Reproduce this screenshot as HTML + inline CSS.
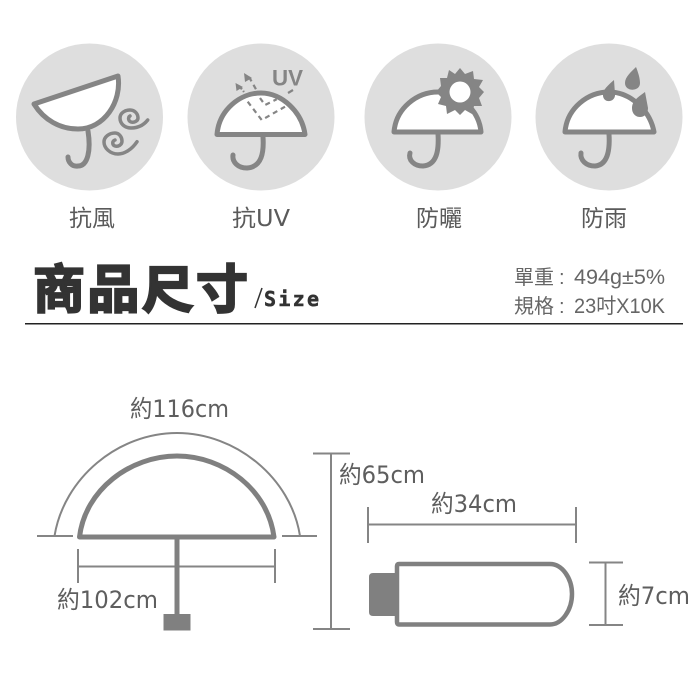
<!DOCTYPE html>
<html><head><meta charset="utf-8"><style>
html,body{margin:0;padding:0;background:#fff}
svg{display:block}
text{font-family:"Liberation Sans","Noto Sans CJK TC",sans-serif}
.lb{font-size:23px;fill:#5a5a5a;font-family:"DejaVu Sans","Noto Sans CJK TC",sans-serif}
.dm{font-size:24px;fill:#5e5e5e;font-family:"DejaVu Sans","Noto Sans CJK TC",sans-serif}
.ic{fill:none;stroke:#858585;stroke-width:5;stroke-linecap:round;stroke-linejoin:round}
.cv{fill:#fff;stroke:#858585;stroke-width:5;stroke-linejoin:round}
.ln{stroke:#858585;stroke-width:2;fill:none}
.ds{fill:none;stroke:#858585;stroke-width:2.2;stroke-dasharray:5 4}
.rt{font-size:20px;fill:#666}
</style></head><body>
<svg width="700" height="700" viewBox="0 0 700 700" xmlns="http://www.w3.org/2000/svg">
<rect width="700" height="700" fill="#fff"/>
<g fill="#dedede">
<circle cx="89.5" cy="117" r="73.5"/><circle cx="261" cy="117" r="73.5"/>
<circle cx="438" cy="117" r="73.5"/><circle cx="609" cy="117" r="73.5"/>
</g>
<!-- wind -->
<path class="cv" d="M34,104 L118,76 C122,102 104,129 78,129 C60,129 44,120 34,104Z"/>
<path class="ic" d="M88,131 C91,150 88,166 78,166 C72,167 68,162 68,157"/>
<path class="ic" style="stroke-width:3.5" d="M147.700,120 C143,126 137,128 131,128 C124,128 120,123 120,118 C120,113 125,110 130,110 C135,110 138,114 138,118 C138,121 134,123 131,122 C128,121 128,117 130,116"/>
<path class="ic" style="stroke-width:3.5" d="M137,141.700 C132,149 125,154 118,154 C110,154 104,148 104,142 C104,137 109,133 115,133 C119,133 122,137 122,141 C122,145 118,147 115,146 C112,145 112,141 115,140"/>
<!-- UV -->
<path class="cv" d="M217,134.500 C219,110 240,93 261,93 C282,93 302,112 305,134.500Z"/>
<path class="ic" d="M263,137 C264,152 262,167 247,168 C238,168 232,162 233,155"/>
<text x="272" y="85.500" font-size="22" font-weight="bold" fill="#858585" textLength="31" lengthAdjust="spacingAndGlyphs">UV</text>
<path class="ds" d="M247.700,101.700 L261.700,120 L285,106.700"/>
<path class="ds" d="M260,98 L265,105 L276.700,99.300"/>
<path class="ds" d="M249,77 L257,91"/>
<path class="ds" d="M240,87 L244,92" style="stroke-dasharray:3 2"/>
<path d="M288,93 L293,90" stroke="#858585" stroke-width="2.2"/>
<path d="M244,73 L252,78 L245,82Z M235.500,83 L243,87 L236.500,91Z" fill="#858585"/>
<!-- sun -->
<path class="cv" d="M394,132 C396,108 417,92 438,92 C459,92 479,110 481,132Z"/>
<path class="ic" d="M438,134 C439,150 437,165 423,166 C414,166 408,160 410,153"/>
<path fill="#858585" d="M460,68 L465,74 L473,71 L474,79 L483,80 L479,87 L484,92 L479,98 L482,106 L474,106 L472,114 L465,110 L460,115 L455,110 L447,114 L446,106 L438,104 L441,97 L436,92 L441,86 L440,78 L447,78 L449,70 L455,74Z"/>
<circle cx="460" cy="92" r="10.500" fill="#fff"/>
<!-- rain -->
<path class="cv" d="M565,132 C567,108 588,92 609,92 C630,92 650,110 654,132Z"/>
<path class="ic" d="M609,134 C610,150 608,165 595,166 C586,166 580,160 581,153"/>
<path fill="#858585" d="M614,80 L615,94 C616,103 602,104 603,94 C603,90 608,85 614,80Z"/>
<path fill="#858585" d="M636,67 C638,72 640,78 640,83 C640,92 625,92 625,83 C625,77 631,72 636,67Z"/>
<path fill="#858585" d="M645,92 L648,108 C648,120 632,120 632,108 C632,101 638,97 645,92Z"/>
<!-- labels -->
<text class="lb" x="69" y="226" textLength="46" lengthAdjust="spacingAndGlyphs">抗風</text>
<text class="lb" x="232" y="226" textLength="58" lengthAdjust="spacingAndGlyphs">抗UV</text>
<text class="lb" x="416" y="226" textLength="46" lengthAdjust="spacingAndGlyphs">防曬</text>
<text class="lb" x="581" y="226" textLength="46" lengthAdjust="spacingAndGlyphs">防雨</text>
<!-- heading -->
<text x="33" y="308" font-size="52" font-weight="bold" fill="#333" stroke="#333" stroke-width="2.200" textLength="215" lengthAdjust="spacing" style='font-family:"Noto Sans CJK TC",sans-serif'>商品尺寸</text>
<path d="M262,288 L255,308" stroke="#333" stroke-width="1.500" fill="none"/>
<text x="264" y="306" font-size="20" font-weight="bold" fill="#333" stroke="#333" stroke-width=".5" textLength="55" lengthAdjust="spacing" style='font-family:"DejaVu Sans Mono",monospace'>Size</text>
<text class="rt" x="514" y="284">單重</text><text class="rt" x="559" y="284">:</text>
<text class="rt" x="574" y="284" style="font-size:21px" textLength="91" lengthAdjust="spacingAndGlyphs">494g±5%</text>
<text class="rt" x="514" y="313">規格</text><text class="rt" x="559" y="313">:</text>
<text class="rt" x="574" y="313" style="font-size:21px" textLength="91" lengthAdjust="spacingAndGlyphs">23吋X10K</text>
<rect x="25" y="323" width="658" height="1.500" fill="#222"/>
<!-- open umbrella -->
<path class="ln" d="M54.500,536 C64,478 118,433 177,433 C236,433 291,478 300,536"/>
<path class="ln" d="M37,536 H73 M282,536 H317"/>
<path d="M79.500,537 C85,490 130,456 177,456 C224,456 268,490 274,537Z" fill="#fff" stroke="#808080" stroke-width="5" stroke-linejoin="round"/>
<path class="ln" d="M78,549 V583 M275,549 V583 M78,566.500 H275"/>
<rect x="174.500" y="537" width="5" height="78" fill="#808080"/>
<rect x="163.500" y="614" width="27" height="16.500" fill="#808080"/>
<path class="ln" d="M313,453.500 H350 M313,629 H350 M331,453.500 V629"/>
<!-- closed umbrella -->
<path class="ln" d="M368,507 V543 M576,507 V543 M368,524.500 H576"/>
<path d="M373,573 H397 V616 H373 Q369,616 369,612 V577 Q369,573 373,573Z" fill="#808080"/>
<path d="M399,564 H550 C562,564 572,578 572,594 C572,610 562,624.500 550,624.500 H399 Q397,624.500 397,622 V566 Q397,564 399,564Z" fill="#fff" stroke="#808080" stroke-width="4.500"/>
<path class="ln" d="M589,562.500 H623 M589,625 H623 M605.500,562.500 V625"/>
<!-- dim labels -->
<text class="dm" x="130" y="417" textLength="99" lengthAdjust="spacingAndGlyphs">約116cm</text>
<text class="dm" x="57" y="608" textLength="101" lengthAdjust="spacingAndGlyphs">約102cm</text>
<text class="dm" x="339" y="483" textLength="86" lengthAdjust="spacingAndGlyphs">約65cm</text>
<text class="dm" x="431" y="512" textLength="86" lengthAdjust="spacingAndGlyphs">約34cm</text>
<text class="dm" x="618" y="604" textLength="72" lengthAdjust="spacingAndGlyphs">約7cm</text>
</svg>
</body></html>
